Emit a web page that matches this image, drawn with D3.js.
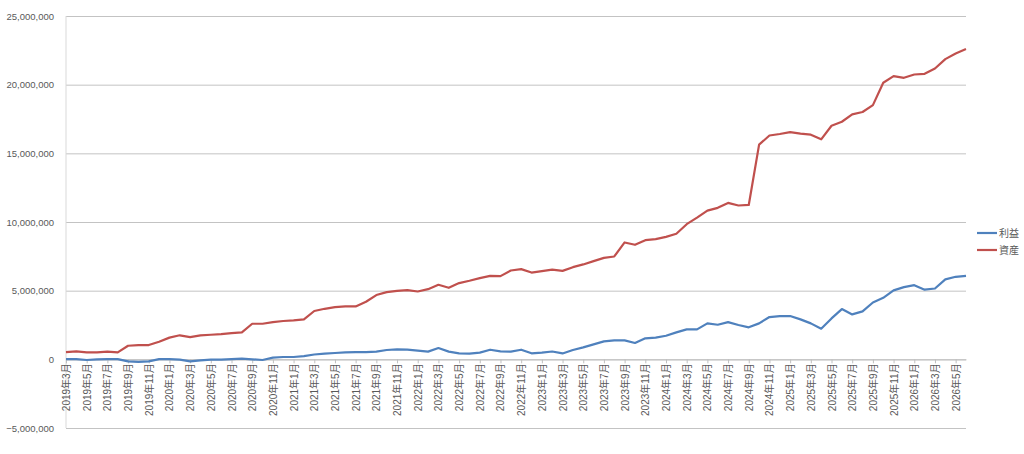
<html>
<script src='https://d3js.org/d3.v7.min.js'></script>
<style>
body {margin: 0; background: #fff;}
text {font-family: "Liberation Sans", "Noto Sans CJK JP", sans-serif; fill: #595959;}
</style>
<body onload='init()'>
<svg width=1024 height=454></svg>
<script>
// months 2019年3月 .. 2026年6月
var months = ["2019年3月","2019年4月","2019年5月","2019年6月","2019年7月","2019年8月","2019年9月","2019年10月","2019年11月","2019年12月",
"2020年1月","2020年2月","2020年3月","2020年4月","2020年5月","2020年6月","2020年7月","2020年8月","2020年9月","2020年10月","2020年11月","2020年12月",
"2021年1月","2021年2月","2021年3月","2021年4月","2021年5月","2021年6月","2021年7月","2021年8月","2021年9月","2021年10月","2021年11月","2021年12月",
"2022年1月","2022年2月","2022年3月","2022年4月","2022年5月","2022年6月","2022年7月","2022年8月","2022年9月","2022年10月","2022年11月","2022年12月",
"2023年1月","2023年2月","2023年3月","2023年4月","2023年5月","2023年6月","2023年7月","2023年8月","2023年9月","2023年10月","2023年11月","2023年12月",
"2024年1月","2024年2月","2024年3月","2024年4月","2024年5月","2024年6月","2024年7月","2024年8月","2024年9月","2024年10月","2024年11月","2024年12月",
"2025年1月","2025年2月","2025年3月","2025年4月","2025年5月","2025年6月","2025年7月","2025年8月","2025年9月","2025年10月","2025年11月","2025年12月",
"2026年1月","2026年2月","2026年3月","2026年4月","2026年5月","2026年6月"]

// 利益
var profit = [20000,20000,-50000,0,20000,10000,-150000,-190000,-150000,20000,
20000,-20000,-150000,-70000,-20000,-20000,20000,50000,0,-50000,120000,170000,
170000,240000,350000,410000,460000,510000,530000,530000,560000,680000,730000,700000,
630000,560000,820000,560000,440000,410000,490000,700000,580000,560000,700000,440000,
490000,570000,430000,680000,870000,1090000,1310000,1380000,1380000,1190000,1530000,1580000,
1720000,1960000,2180000,2180000,2620000,2520000,2710000,2500000,2330000,2620000,3080000,3150000,
3150000,2910000,2620000,2230000,2980000,3660000,3270000,3490000,4140000,4480000,5020000,5260000,
5400000,5070000,5160000,5820000,6010000,6080000]

// 資産
var assets = [530000,580000,510000,510000,560000,510000,990000,1040000,1040000,1280000,
1580000,1750000,1620000,1750000,1790000,1840000,1910000,1960000,2590000,2590000,2710000,2790000,
2840000,2910000,3520000,3680000,3800000,3850000,3850000,4190000,4680000,4890000,4990000,5040000,
4940000,5110000,5430000,5210000,5550000,5720000,5910000,6080000,6060000,6470000,6570000,6320000,
6420000,6530000,6440000,6710000,6910000,7150000,7390000,7490000,8510000,8340000,8680000,8750000,
8920000,9140000,9840000,10320000,10830000,11030000,11390000,11200000,11240000,15630000,16300000,16410000,
16550000,16430000,16360000,16020000,17010000,17300000,17840000,18010000,18510000,20140000,20620000,20500000,
20740000,20790000,21180000,21860000,22270000,22590000]

var yTicks = [-5000000, 0, 5000000, 10000000, 15000000, 20000000, 25000000]
var seriesNames = ["利益", "資産"]
var seriesColors = ["#4F81BD", "#C0504D"]

function init() {
  var svg = d3.select("svg")
  var x = d3.scalePoint().domain(months).range([66, 966])
  var y = d3.scaleLinear().domain([-5000000, 25000000]).range([428, 16])

  // gridlines + y labels
  var ya = svg.append("g").attr("transform", "translate(66,0)")
    .call(d3.axisLeft(y).tickValues(yTicks).tickSize(-900).tickPadding(12).tickFormat(d3.format(",")))
  ya.select(".domain").remove()
  ya.selectAll("line").attr("stroke", "#c3c3c3")
  ya.selectAll("text").attr("font-size", 9.5).style("font-family", "Liberation Sans, sans-serif")

  // left axis line
  svg.append("line").attr("x1", 66).attr("x2", 66).attr("y1", 16).attr("y2", 428)
    .attr("stroke", "#d9d9d9")

  // category axis at 0
  var xa = svg.append("g").attr("transform", "translate(0," + y(0) + ")")
    .call(d3.axisBottom(x).tickValues(months.filter(function(d, i) { return i % 2 == 0 })).tickSize(4).tickSizeOuter(0))
  xa.select(".domain").attr("stroke", "#bfbfbf")
  xa.selectAll("line").attr("stroke", "#bfbfbf")
  xa.selectAll("text")
    .attr("font-size", 10)
    .attr("transform", "rotate(-90)")
    .attr("text-anchor", "end")
    .attr("x", -4).attr("y", 0).attr("dy", "0.35em")

  var line = d3.line().x(function(d, i) { return x(months[i]) }).y(function(d) { return y(d) })
  ;[profit, assets].forEach(function(s, k) {
    svg.append("path").datum(s).attr("d", line)
      .attr("fill", "none").attr("stroke", seriesColors[k]).attr("stroke-width", 2.2)
      .attr("stroke-linejoin", "round")
  })

  // legend
  var lg = svg.append("g").selectAll("g").data(seriesNames).enter().append("g")
    .attr("transform", function(d, i) { return "translate(977," + (233 + i * 17) + ")" })
  lg.append("line").attr("x1", 0).attr("x2", 20)
    .attr("stroke", function(d, i) { return seriesColors[i] }).attr("stroke-width", 2.2)
  lg.append("text").attr("x", 22).attr("dy", "0.35em").attr("font-size", 10).text(function(d) { return d })
}
</script>
</body>
</html>
